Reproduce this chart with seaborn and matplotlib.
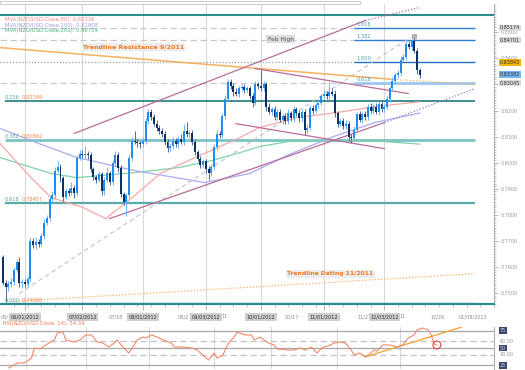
import numpy as np
import pandas as pd
import matplotlib
matplotlib.use("Agg")
import matplotlib.pyplot as plt
import matplotlib.transforms as mtransforms
from matplotlib.patches import Rectangle
import seaborn as sns

sns.set_theme(style="white")
plt.rcParams['font.family'] = ['DejaVu Sans']

# ---------------- data ----------------
start_date = "2012-05-22"
first_open = 0.7640
closes = [
    0.7540, 0.7525, 0.7535, 0.7545, 0.7590, 0.7620, 0.7540, 0.7545, 0.7535, 0.7555,
    0.7700, 0.7685, 0.7695, 0.7690, 0.7720, 0.7770, 0.7790, 0.7860, 0.7875, 0.7970,
    0.7985, 0.7940, 0.7870, 0.7890, 0.7885, 0.7905, 0.7885, 0.8020, 0.8035, 0.8030,
    0.8035, 0.8030, 0.7975, 0.7945, 0.7935, 0.7955, 0.7890, 0.7935, 0.7960, 0.7925,
    0.8000, 0.8030, 0.7980, 0.7880, 0.7850, 0.7875, 0.8020, 0.8085, 0.8080, 0.8075,
    0.8070, 0.8085, 0.8160, 0.8195, 0.8175, 0.8150, 0.8135, 0.8120, 0.8110, 0.8080,
    0.8055, 0.8065, 0.8085, 0.8070, 0.8090, 0.8080, 0.8120, 0.8110, 0.8115, 0.8080,
    0.8040, 0.8015, 0.7990, 0.8005, 0.7975, 0.7960, 0.7985, 0.8060, 0.8110, 0.8105,
    0.8180, 0.8245, 0.8310, 0.8295, 0.8270, 0.8265, 0.8285, 0.8290, 0.8280, 0.8285,
    0.8255, 0.8230, 0.8300, 0.8295, 0.8285, 0.8300, 0.8215, 0.8195, 0.8205, 0.8175,
    0.8195, 0.8165, 0.8180, 0.8160, 0.8190, 0.8170, 0.8205, 0.8190, 0.8170, 0.8195,
    0.8125, 0.8135, 0.8210, 0.8200, 0.8220, 0.8230, 0.8255, 0.8265, 0.8255, 0.8270,
    0.8265, 0.8190, 0.8150, 0.8160, 0.8140, 0.8150, 0.8100, 0.8095, 0.8125, 0.8185,
    0.8165, 0.8185, 0.8175, 0.8215, 0.8200, 0.8215, 0.8195, 0.8225, 0.8205, 0.8215,
    0.8245, 0.8285, 0.8315, 0.8335, 0.8345, 0.8395, 0.8405, 0.8455, 0.8445, 0.8465,
    0.8430, 0.8355, 0.8338]
upper_wick_pips = [
    8, 10, 12, 15, 10, 12, 20, 10, 8, 12,
    15, 10, 20, 12, 10, 15, 10, 12, 18, 15,
    20, 12, 10, 15, 12, 20, 10, 10, 15, 12,
    30, 10, 12, 10, 8, 15, 10, 12, 25, 10,
    12, 15, 10, 10, 8, 10, 12, 15, 35, 15,
    10, 12, 10, 10, 12, 10, 15, 10, 12, 10,
    12, 10, 15, 10, 12, 20, 30, 35, 12, 10,
    10, 8, 12, 10, 10, 12, 10, 10, 15, 10,
    12, 15, 10, 12, 10, 15, 10, 10, 12, 10,
    10, 12, 15, 10, 60, 15, 10, 12, 10, 12,
    10, 12, 10, 12, 15, 10, 12, 10, 12, 10,
    10, 12, 10, 12, 10, 15, 10, 12, 10, 40,
    15, 12, 10, 12, 10, 12, 10, 10, 15, 10,
    12, 10, 15, 10, 12, 10, 12, 10, 12, 10,
    12, 10, 12, 10, 12, 15, 10, 12, 10, 10,
    12, 10, 8]
lower_wick_pips = [
    10, 60, 15, 10, 12, 10, 15, 20, 12, 10,
    12, 10, 15, 12, 10, 12, 10, 15, 10, 12,
    10, 12, 15, 10, 12, 10, 20, 12, 10, 12,
    10, 15, 12, 10, 12, 10, 15, 12, 10, 12,
    10, 12, 15, 12, 10, 55, 10, 12, 10, 15,
    12, 10, 12, 10, 12, 10, 12, 10, 10, 12,
    15, 10, 12, 10, 12, 10, 12, 10, 15, 12,
    12, 10, 12, 10, 15, 25, 10, 12, 10, 10,
    10, 12, 10, 12, 15, 10, 12, 10, 12, 10,
    12, 15, 10, 12, 10, 12, 15, 10, 12, 10,
    12, 10, 15, 10, 12, 10, 12, 10, 12, 15,
    20, 12, 10, 12, 10, 12, 10, 12, 10, 12,
    10, 15, 12, 10, 12, 10, 15, 20, 10, 12,
    10, 12, 10, 12, 10, 12, 10, 12, 10, 12,
    10, 12, 10, 12, 10, 12, 10, 12, 10, 12,
    10, 15, 12]

# moving averages (readings at candle positions)
ma50_x = [-1.05, 9.5, 17.5, 29.4, 37.5, 48.0, 57.4, 70.1, 86.5, 93.5, 107.5, 121.5, 135.6, 152]
ma50_y = [0.8074, 0.7951, 0.7867, 0.7828, 0.7786, 0.7874, 0.7959, 0.8020, 0.8097, 0.8135,
          0.8173, 0.8192, 0.8215, 0.82336]
ma100_x = [-1.05, 13.0, 27.0, 48.0, 58.5, 73.6, 90.0, 105.1, 121.5, 135.6, 152]
ma100_y = [0.8131, 0.8074, 0.8020, 0.7970, 0.7951, 0.7924, 0.7959, 0.8035, 0.8104, 0.8154, 0.81908]
ma200_x = [-1.05, 17.5, 27.0, 48.0, 64.4, 76.0, 86.5, 93.5, 104.0, 121.5, 139.1, 152]
ma200_y = [0.8020, 0.7959, 0.7943, 0.7962, 0.7982, 0.8008, 0.8039, 0.8062, 0.8081, 0.8085,
           0.8081, 0.80714]

# RSI(14)
rsi_x = [2, 5, 7, 8, 10, 11, 13, 14, 16, 18, 19, 21, 22, 25, 27, 29, 31, 33, 35, 37, 39, 40,
         42, 44, 45, 47, 49, 50, 52, 54, 56, 59, 60, 63, 66, 68, 70, 72, 74, 75, 77, 79, 81,
         82, 85, 87, 88, 90, 93, 95, 96, 100, 102, 104, 106, 108, 110, 112, 114, 116, 118,
         120, 122, 123, 125, 127, 128, 130, 131, 133, 136, 138, 140, 142, 144, 145, 147,
         149, 150, 151, 152]
rsi_y = [21.0, 28.3, 28.3, 29.7, 35.5, 50.0, 48.6, 51.4, 57.2, 61.6, 71.7, 73.2, 61.6, 58.7,
         61.6, 68.8, 68.8, 58.7, 57.2, 51.4, 57.2, 61.6, 51.4, 42.8, 48.0, 61.6, 65.9, 64.5,
         68.8, 65.9, 61.6, 57.2, 51.4, 51.4, 50.0, 47.1, 39.9, 32.6, 42.8, 35.5, 39.9, 57.2,
         65.9, 73.2, 68.8, 68.8, 61.6, 65.9, 57.2, 54.3, 48.6, 47.1, 47.1, 50.0, 47.1, 51.4,
         42.8, 51.4, 52.9, 57.2, 58.7, 57.2, 47.1, 39.9, 42.8, 37.0, 39.9, 47.1, 45.7, 54.3,
         54.3, 51.4, 54.3, 64.5, 68.8, 76.1, 79.0, 76.1, 68.8, 56.0, 54.34]

# Fibonacci retracement (left) and extension (right) levels
retr_ratios = ["0.236", "0.382", "0.618", "0.000"]
retr_levels = [0.82349, 0.80862, 0.78457, 0.74588]
ext_ratios = ["1.618", "1.382", "1.000", "0.618"]
ext_levels = [0.85174, 0.84701, 0.83843, 0.83045]
current_price = 0.83382

# right-axis tick labels (0.8300 is hidden behind a price box in the reference)
price_ticks = [0.75, 0.76, 0.77, 0.78, 0.79, 0.80, 0.81, 0.82, 0.83, 0.84, 0.85]
price_tick_labels = ["0.7500", "0.7600", "0.7700", "0.7800", "0.7900", "0.8000", "0.8100",
                     "0.8200", "", "0.8400", "0.8500"]

# trendlines (candle index, price)
res_x, res_y = [-1.05, 142.6], [0.8441, 0.8319]
res_ext_x, res_ext_y = [142.6, 172.0], [0.8319, 0.8300]
dating_x, dating_y = [2.45, 172.0], [0.7468, 0.7575]
chan_up_x, chan_up_y = [25.9, 132.1], [0.8112, 0.8545]
chan_up_ext_x, chan_up_ext_y = [132.1, 152.0], [0.8545, 0.8595]
chan_lo_x, chan_lo_y = [38.9, 139.1], [0.7786, 0.8154]
chan_lo_ext_x, chan_lo_ext_y = [139.1, 172.0], [0.8154, 0.8284]
desc_up_x, desc_up_y = [91.8, 147.8], [0.8361, 0.8265]
desc_lo_x, desc_lo_y = [84.8, 139.1], [0.8150, 0.8054]
diag_x, diag_y = [5.95, 148.5], [0.7499, 0.8480]
rsi_tl_x, rsi_tl_y = [126.8, 160.8], [37.0, 80.4]

month_labels = ["06/01/2012", "07/02/2012", "08/01/2012", "09/03/2012",
                "10/01/2012", "11/01/2012", "12/03/2012"]
minor_labels = ["05/", "07/18", "08/2", "11", "10/17", "11/2", "11", "12/26", "01/08/2013"]
minor_label_pos = [-0.8, 41.0, 65.9, 81.0, 105.4, 131.3, 145.7, 158.3, 171.3]

# ---------------- figure ----------------
W, H = 525, 370
fig = plt.figure(figsize=(W / 100, H / 100), dpi=100)
fig.patch.set_facecolor("white")
ax = fig.add_axes([0, (H - 304) / H, 494 / W, 300 / H])
ax2 = fig.add_axes([0, (H - 369) / H, 494 / W, 42 / H])

n = len(closes)
xi = np.arange(n)
c = np.array(closes)
o = np.r_[first_open, c[:-1]]
hi = np.maximum(o, c) + np.array(upper_wick_pips) / 1e4
lo = np.minimum(o, c) - np.array(lower_wick_pips) / 1e4
bull = c >= o

dates = pd.bdate_range(start_date, periods=180)
month_pos = [dates.get_loc(pd.Timestamp(pd.to_datetime(m, format="%m/%d/%Y"))) for m in month_labels]
monday_pos = [i for i, d in enumerate(dates) if d.weekday() == 0]

XL = (-1.05, 172.0)
YL = (0.74588, 0.74588 + 300 / 2610)
for a in (ax, ax2):
    a.set_xlim(*XL)
    a.set_facecolor("white")
    for p in month_pos:
        a.axvline(p, color="#d9d9d9", lw=0.8, zorder=0)
ax.set_ylim(*YL)
ax2.set_ylim(19.6, 80.4)

# horizontal levels
top_line = 0.74588 + 289 / 2610
ax.axhline(top_line, color="#2a8c8c", lw=1.5, zorder=1)
retr_colors = ["#1e7b7b", "#7cc3c3", "#5aacac", "#2a8c8c"]
retr_lw = [1.2, 2.0, 1.6, 1.6]
for lvl, col, lw in zip(retr_levels, retr_colors, retr_lw):
    ax.hlines(lvl, 0.7, XL[1], color=col, lw=lw, zorder=1)
for r, lvl in zip(retr_ratios, retr_levels):
    ax.text(0.7, lvl + 0.0004, r, fontsize=3.7, color="#5aa6a6", va="bottom", ha="left", zorder=6)
    ax.text(7.0, lvl + 0.0004, f"{lvl:.5f}", fontsize=3.7, color="#f08a4a", va="bottom", ha="left", zorder=6)

ext_start = 128.0
ext_cols = ["#2b7fd8", "#2b7fd8", "#2070c8", "#9cc8f0"]
ext_lw = [1.0, 1.0, 1.0, 2.0]
guide_styles = [(0, (5, 3)), (0, (5, 3)), (0, (1, 1.5)), (0, (5, 3))]
for r, lvl, col, lw, ls in zip(ext_ratios, ext_levels, ext_cols, ext_lw, guide_styles):
    ax.hlines(lvl, XL[0], ext_start, color="#c8c8c8" if r != "1.000" else "#a0a0a0",
              lw=0.9, linestyles=[ls], zorder=1)
    ax.hlines(lvl, ext_start, XL[1], color=col, lw=lw, zorder=2)
    ax.text(ext_start + 0.8, lvl + 0.0004, r, fontsize=3.7, color="#4a9fb0", va="bottom", ha="left", zorder=6)

# moving averages
sns.lineplot(x=ma200_x, y=ma200_y, ax=ax, color="#7fd3a8", lw=0.9, zorder=2)
sns.lineplot(x=ma100_x, y=ma100_y, ax=ax, color="#aaaaf0", lw=0.9, zorder=2)
sns.lineplot(x=ma50_x, y=ma50_y, ax=ax, color="#f6a8a8", lw=0.9, zorder=2)

# trendlines
ax.plot(diag_x, diag_y, color="#c0c0c0", lw=0.8, ls=(0, (4, 3)), zorder=2)
ax.plot(res_x, res_y, color="#f7b060", lw=1.1, zorder=3)
ax.plot(res_ext_x, res_ext_y, color="#f7b060", lw=0.9, ls=(0, (1, 1.5)), zorder=3)
ax.plot(dating_x, dating_y, color="#f7b060", lw=0.9, ls=(0, (1, 1.5)), zorder=2)
mauve = "#b96c9a"
ax.plot(chan_up_x, chan_up_y, color=mauve, lw=0.9, zorder=3)
ax.plot(chan_up_ext_x, chan_up_ext_y, color=mauve, lw=0.9, ls=(0, (1, 1.5)), zorder=3, clip_on=False)
ax.plot(chan_lo_x, chan_lo_y, color=mauve, lw=0.9, zorder=3)
ax.plot(chan_lo_ext_x, chan_lo_ext_y, color="#9a7ad0", lw=0.9, ls=(0, (1, 1.5)), zorder=3)
ax.plot(desc_up_x, desc_up_y, color=mauve, lw=0.9, zorder=3)
ax.plot(desc_lo_x, desc_lo_y, color=mauve, lw=0.9, zorder=3)

# candles
bull_col, bear_col = "#1f8ef1", "#0c2f66"
ax.vlines(xi[bull], lo[bull], hi[bull], color="#74b4f2", lw=0.7, zorder=4)
ax.vlines(xi[~bull], lo[~bull], hi[~bull], color="#4f6c9c", lw=0.7, zorder=4)
body = np.maximum(np.abs(c - o), 0.00025)
ax.bar(xi[bull], body[bull], bottom=o[bull], width=0.72, color=bull_col, lw=0, zorder=5)
ax.bar(xi[~bull], body[~bull], bottom=c[~bull], width=0.72, color=bear_col, lw=0, zorder=5)
peak_i = int(np.argmax(hi))
ax.scatter([peak_i], [hi[peak_i] + 0.0008], marker="s", s=7, color="#b8b8b8",
           edgecolor="#8a8a8a", lw=0.4, zorder=6)

# annotations
ax.text(47.6, 0.84435, "Trendline Resistance 9/2011", fontsize=4.6, fontweight="bold",
        color="#f07a22", ha="center", va="center", zorder=7,
        bbox=dict(boxstyle="square,pad=0.2", fc="#ececec", ec="none"))
ax.text(119.4, 0.7574, "Trendline Dating 11/2011", fontsize=4.3, fontweight="bold",
        color="#f07a22", ha="center", va="center", zorder=7,
        bbox=dict(boxstyle="square,pad=0.2", fc="#ececec", ec="none"))
ax.text(101.2, 0.8474, "Feb High", fontsize=4.2, color="#555555", ha="center", va="center",
        zorder=7, bbox=dict(boxstyle="square,pad=0.25", fc="#dcdcdc", ec="none"))

# MA legend
tA = ax.transAxes
def ay(px):
    return (304 - px) / 300
ax.text(5 / 494, ay(20), "MVA(NZD/USD.Close,50): 0.82336", fontsize=3.8, color="#f08a8a",
        transform=tA, va="center", zorder=7)
ax.text(5 / 494, ay(25.5), "MVA(NZD/USD.Close,100): 0.81908", fontsize=3.8, color="#9c9ce6",
        transform=tA, va="center", zorder=7)
ax.text(5 / 494, ay(31), "MVA(NZD/USD.Close,200): 0.80714", fontsize=3.8, color="#45b585",
        transform=tA, va="center", zorder=7)

# right axis (price)
for a in (ax, ax2):
    for s in ["left", "top", "bottom"]:
        a.spines[s].set_visible(False)
    a.spines["right"].set_color("#b0b0b0")
    a.spines["right"].set_linewidth(0.8)
ax.spines["bottom"].set_visible(True)
ax.spines["bottom"].set_color("#2a8c8c")
ax.spines["bottom"].set_linewidth(1.6)
ax.yaxis.tick_right()
ax.set_yticks(price_ticks)
ax.set_yticklabels(price_tick_labels)
ax.set_yticks(np.round(np.arange(0.746, 0.861, 0.001), 3), minor=True)
ax.tick_params(axis="y", which="major", right=True, length=3, width=0.5, colors="#9a9a9a",
               labelsize=3.5, pad=1.5)
ax.tick_params(axis="y", which="minor", right=True, length=1.5, width=0.4, colors="#9a9a9a")
ax.set_xticks(month_pos)
ax.set_xticks(monday_pos, minor=True)
ax.tick_params(axis="x", which="major", bottom=True, length=4, width=0.5, colors="#9a9a9a",
               labelbottom=False)
ax.tick_params(axis="x", which="minor", bottom=True, length=2.2, width=0.4, colors="#9a9a9a")
ax.set_xlabel("")
ax.set_ylabel("")

tR = mtransforms.blended_transform_factory(ax.transAxes, ax.transData)
box_specs = [(ext_levels[0], "#d9d9d9"), (ext_levels[1], "#d9d9d9"), (ext_levels[2], "#f7b500"),
             (current_price, "#74b4f2"), (ext_levels[3], "#d9d9d9")]
for lvl, fc in box_specs:
    ax.text(1 + 6 / 494, lvl, f"{lvl:.5f}", transform=tR, fontsize=3.5, color="#333333",
            va="center", ha="left", zorder=8, clip_on=False,
            bbox=dict(boxstyle="square,pad=0.12", fc=fc, ec="none"))

# date labels
tX = mtransforms.blended_transform_factory(ax.transData, ax.transAxes)
for lab, p in zip(minor_labels, minor_label_pos):
    ha = "left" if lab == "05/" else "center"
    ax.text(p, ay(317), lab, transform=tX, fontsize=3.6, color="#8c8c8c", ha=ha, va="center",
            zorder=7, clip_on=False)
for lab, p in zip(month_labels, month_pos):
    ax.text(p, ay(317), lab, transform=tX, fontsize=3.6, color="#333333", ha="center",
            va="center", zorder=8, clip_on=False,
            bbox=dict(boxstyle="square,pad=0.3", fc="#cfcfcf", ec="none"))

# RSI panel
for v, ls, col in [(75, "-", "#a8a8a8"), (50, "-", "#a8a8a8"), (25, "-", "#a8a8a8"),
                   (60, (0, (5, 3)), "#c4c4c4"), (40, (0, (5, 3)), "#c4c4c4")]:
    ax2.axhline(v, color=col, lw=0.9, ls=ls, zorder=1)
sns.lineplot(x=rsi_x, y=rsi_y, ax=ax2, color="#f08a6a", lw=0.8, zorder=3)
ax2.plot(rsi_tl_x, rsi_tl_y, color="#f5a838", lw=1.0, zorder=2)
ax2.scatter([rsi_x[-1]], [rsi_y[-1]], s=32, facecolor="none", edgecolor="#e84040", lw=0.8, zorder=4)
ax2.set_xticks([])
ax2.set_yticks([])
ax2.set_xlabel("")
ax2.set_ylabel("")
ax2.text(3 / 494, (369 - 323) / 42, "RSI(NZD/USD.Close, 14): 54.34", transform=ax2.transAxes,
         fontsize=3.8, color="#e87a5a", va="center", ha="left", clip_on=False)
tR2 = mtransforms.blended_transform_factory(ax2.transAxes, ax2.transData)
for v, lab, boxed in [(75, "75", True), (60, "60.00", False), (50, "50", True),
                      (40, "40.00", False), (25, "25", True)]:
    kw = dict(bbox=dict(boxstyle="square,pad=0.2", fc="#3c4470", ec="none")) if boxed else {}
    ax2.text(1 + 6 / 494, v, lab, transform=tR2, fontsize=3.5,
             color="#d8d8e8" if boxed else "#9a9a9a", va="center", ha="left",
             clip_on=False, **kw)

# top strip
fig.add_artist(Rectangle((0, 1 - 4 / H), 360 / W, 3 / H, transform=fig.transFigure,
                         fill=False, edgecolor="#c4c4c4", lw=0.6))

fig.savefig("out.png", dpi=100, facecolor="white")
